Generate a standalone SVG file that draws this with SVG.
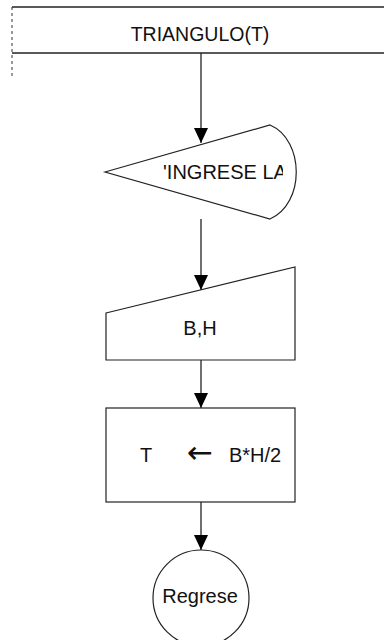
<svg xmlns="http://www.w3.org/2000/svg" width="384" height="640" viewBox="0 0 384 640">
<style>
.s{fill:#fff;stroke:#222;stroke-width:1.2}
.t{font-family:"Liberation Sans",Arial,sans-serif;font-size:20px;fill:#111}
.c{stroke:#222;stroke-width:1.3;fill:none}
</style>
<defs>
<marker id="ah" markerWidth="16" markerHeight="14" refX="15" refY="7" orient="auto" markerUnits="userSpaceOnUse">
<path d="M0,0 L15,7 L0,14 Z" fill="#000"/>
</marker>
<clipPath id="cp"><rect x="100" y="120" width="183" height="110"/></clipPath>
</defs>
<rect width="384" height="640" fill="#fff"/>
<g id="header">
<line x1="12" y1="7" x2="384" y2="7" class="c"/>
<line x1="12" y1="53" x2="384" y2="53" class="c"/>
<line x1="12" y1="7" x2="12" y2="78" stroke="#333" stroke-width="1" stroke-dasharray="3,3"/>
<text x="200" y="41" text-anchor="middle" class="t" style="font-size:19.5px">TRIANGULO(T)</text>
</g>
<g id="connectors">
<line x1="201" y1="53" x2="201" y2="143" class="c" marker-end="url(#ah)"/>
<line x1="201" y1="219" x2="201" y2="290" class="c" marker-end="url(#ah)"/>
<line x1="201" y1="360" x2="201" y2="408" class="c" marker-end="url(#ah)"/>
<line x1="201" y1="502" x2="201" y2="550" class="c" marker-end="url(#ah)"/>
</g>
<g id="display">
<path d="M105,172 L270,125 C305,140 305,204 270,219 Z" class="s"/>
<text x="163" y="179" class="t" clip-path="url(#cp)">'INGRESE LA</text>
</g>
<g id="input">
<path d="M106,313 L295,267 L295,360 L106,360 Z" class="s"/>
<text x="200" y="335" text-anchor="middle" class="t">B,H</text>
</g>
<g id="process">
<rect x="106" y="408" width="189" height="94" class="s"/>
<text x="146" y="462" text-anchor="middle" class="t">T</text>
<text x="200" y="463" text-anchor="middle" class="t" style="font-family:'DejaVu Sans',sans-serif;font-size:31px">←</text>
<text x="229" y="462" class="t">B*H/2</text>
</g>
<g id="end">
<circle cx="201" cy="598" r="48" class="s"/>
<text x="200" y="603" text-anchor="middle" class="t">Regrese</text>
</g>
</svg>
